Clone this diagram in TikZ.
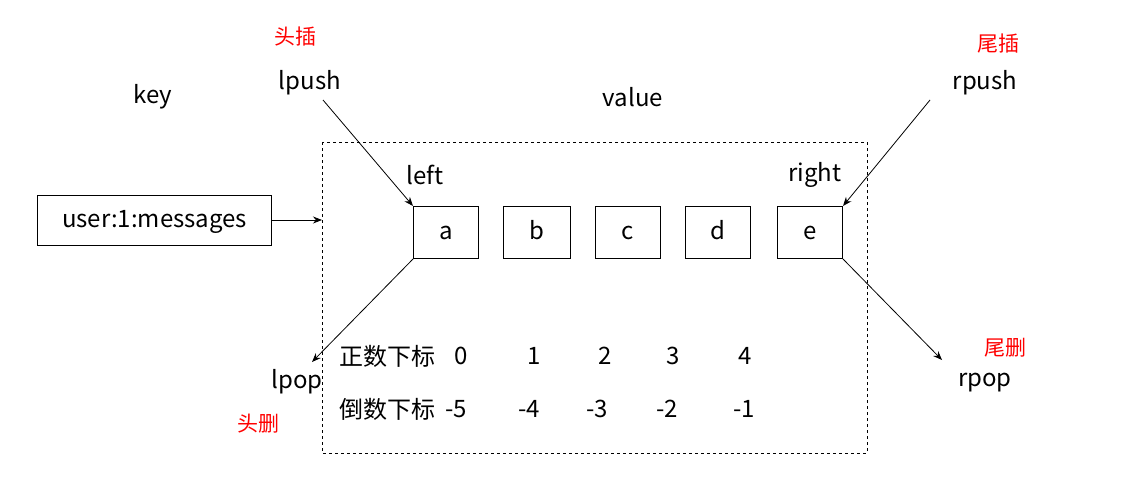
\documentclass[tikz,border=0pt]{standalone}
\usepackage{fontspec}
\setmainfont{Noto Sans CJK SC}
\usetikzlibrary{arrows.meta}
\begin{document}
\begin{tikzpicture}[x=1pt,y=-1pt,
  txt/.style={font=\fontsize{24}{26}\selectfont,inner sep=0pt},
  red/.style={font=\fontsize{21}{23}\selectfont,inner sep=0pt,text=red},
  cell/.style={draw,line width=1pt,minimum width=65pt,minimum height=52pt,anchor=north west,inner sep=0pt,text height=17pt,text depth=4pt,font=\fontsize{24}{26}\selectfont},
  arr/.style={-{Stealth[length=9pt,width=7pt]},line width=0.8pt}]
\useasboundingbox (0,0) rectangle (1123,476);
\node[red] (ht) at (295,37) {头插};
\node[txt] (lpush) at (310,83) {lpush};
\node[txt] (key) at (153,97) {key};
\node[txt] (value) at (633,97) {value};
\node[red] (wt) at (998,44) {尾插};
\node[txt] (rpush) at (985,83) {rpush};
\draw[dashed,line width=0.8pt] (322,142) rectangle (867,453);
\node[txt] (left) at (425,175) {left};
\node[txt] (right) at (815,175) {right};
\node[cell,minimum width=234pt,minimum height=50pt] (k) at (37,195) {user:1:messages};
\coordinate (kin) at (322,220);
\draw[arr] (k.east |- kin) -- (kin);
\node[cell] (a) at (413,206) {a};
\node[cell,minimum width=67pt] (b) at (503,206) {b};
\node[cell] (c) at (595,206) {c};
\node[cell] (d) at (685,206) {d};
\node[cell] (e) at (777,206) {e};
\coordinate (lps) at (323,100);
\coordinate (rps) at (930,100);
\coordinate (lpp) at (312,362);
\coordinate (rpp) at (942,360);
\draw[arr] (lps) -- (a.north west);
\draw[arr] (rps) -- (e.north east);
\draw[arr] (a.south west) -- (lpp);
\draw[arr] (e.south east) -- (rpp);
\node[txt] (lpop) at (297,382) {lpop};
\node[red] (hs) at (258,424) {头删};
\node[txt] (rpop) at (985,383) {rpop};
\node[red] (ws) at (1005,348) {尾删};
\node[txt] (zs) at (387,356) {正数下标};
\node[txt] (p0) at (461,356) {0};
\node[txt] (p1) at (534,356) {1};
\node[txt] (p2) at (605,356) {2};
\node[txt] (p3) at (673,356) {3};
\node[txt] (p4) at (745,356) {4};
\node[txt] (ds) at (387,409) {倒数下标};
\node[txt] (n5) at (456,409) {-5};
\node[txt] (n4) at (529,409) {-4};
\node[txt] (n3) at (597,409) {-3};
\node[txt] (n2) at (667,409) {-2};
\node[txt] (n1) at (744,409) {-1};
\end{tikzpicture}
\end{document}
